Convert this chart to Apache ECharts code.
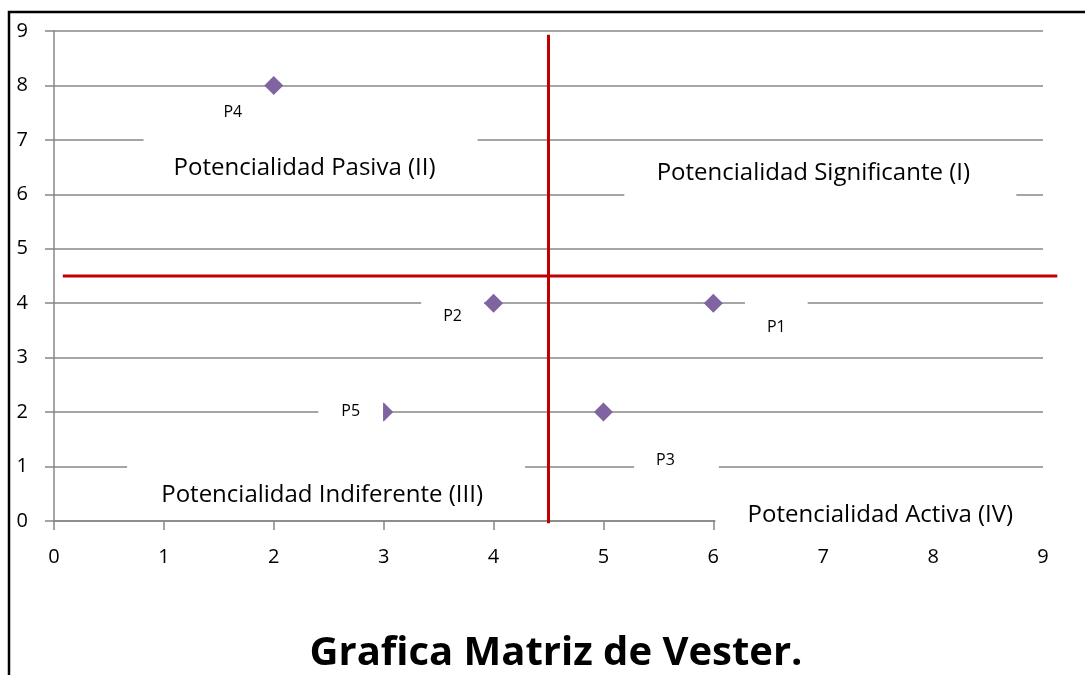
<!DOCTYPE html>
<html>
<head>
<meta charset="utf-8">
<script src="https://cdn.jsdelivr.net/npm/echarts@6/dist/echarts.min.js"></script>
<style>
  html, body { margin: 0; padding: 0; background: #fff; }
  #chart { width: 1085px; height: 675px; }
</style>
</head>
<body>
<div id="chart"></div>
<script>
// puntos de la matriz (x = activos, y = pasivos)
const pointNames = ["P1", "P2", "P3", "P4", "P5"];
const xValues = [6, 4, 5, 2, 3];
const yValues = [4, 4, 2, 8, 2];

const axisTicks = [0, 1, 2, 3, 4, 5, 6, 7, 8, 9];

// divisiones de los cuadrantes (lineas rojas)
const splitX = 4.5;
const splitY = 4.5;
const vLineRange = [-0.04, 8.93];
const hLineRange = [0.08, 9.13];

// textos de cuadrantes, anclados en coordenadas de datos (centro del texto)
const quadrantNames = [
  "Potencialidad Pasiva (II)",
  "Potencialidad Significante (I)",
  "Potencialidad Indiferente (III)",
  "Potencialidad Activa (IV)"
];
const quadrantX = [2.28, 6.91, 2.44, 7.52];
const quadrantY = [6.48, 6.39, 0.48, 0.11];

const titleText = "Grafica Matriz de Vester.";

const font = "'Open Sans', 'Noto Sans', sans-serif";
const gridColor = "#878787";

// label placement for each point (white box hides grid lines like in excel)
const pointLabelStyle = {
  P1: { offset: [63, 24], padding: [18, 22] },
  P2: { offset: [-41, 13], padding: [8, 22] },
  P3: { offset: [73, 48], padding: [8, 44, 8, 22] },
  P4: { offset: [-41, 27], padding: [8, 22] },
  P5: { offset: [-33, -1], padding: [8, 23] }
};

// white text box around each quadrant text: [up, right, down, left] in px
const quadrantBox = [
  [32, 173, 22, 161],
  [20, 203, 25, 189],
  [33, 203, 22, 195],
  [18, 168, 18, 165]
];

const chart = echarts.init(document.getElementById("chart"));

const pointData = pointNames.map((n, i) => ({
  name: n,
  value: [xValues[i], yValues[i]],
  label: {
    offset: pointLabelStyle[n].offset,
    padding: pointLabelStyle[n].padding
  }
}));

const quadrantData = quadrantNames.map((n, i) => ({
  name: n,
  value: [quadrantX[i], quadrantY[i]]
}));

const redLines = [
  [splitX, vLineRange[0], splitX, vLineRange[1]],
  [hLineRange[0], splitY, hLineRange[1], splitY]
];

chart.setOption({
  animation: false,
  title: {
    text: titleText,
    left: 551,
    textAlign: "center",
    top: 629,
    textStyle: { fontFamily: font, fontWeight: "bold", fontSize: 40, color: "#000" }
  },
  graphic: [{
    type: "rect",
    shape: { x: 9, y: 12, width: 1200, height: 800 },
    style: { fill: "none", stroke: "#000", lineWidth: 2.5 },
    silent: true,
    z: 100
  }],
  grid: { left: 54, right: 42, top: 31, bottom: 154 },
  xAxis: {
    type: "value",
    min: 0, max: 9, interval: 1,
    axisLine: { show: true, lineStyle: { color: gridColor, width: 1.5 } },
    axisTick: { show: true, length: 9, lineStyle: { color: gridColor, width: 1.5 } },
    axisLabel: { margin: 26, color: "#000", fontFamily: font, fontSize: 20,
      formatter: v => axisTicks.includes(v) ? String(v) : "" },
    splitLine: { show: false }
  },
  yAxis: {
    type: "value",
    min: 0, max: 9, interval: 1,
    axisLine: { show: true, lineStyle: { color: gridColor, width: 1.5 } },
    axisTick: { show: true, length: 9, lineStyle: { color: gridColor, width: 1.5 } },
    axisLabel: { margin: 26, color: "#000", fontFamily: font, fontSize: 20,
      formatter: v => axisTicks.includes(v) ? String(v) : "" },
    splitLine: { show: true, lineStyle: { color: gridColor, width: 1.5 } }
  },
  series: [
    {
      type: "custom",
      name: "cuadrantes",
      data: quadrantData,
      clip: false,
      silent: true,
      z: 3,
      encode: { x: 0, y: 1 },
      renderItem: (params, api) => {
        const p = api.coord([api.value(0), api.value(1)]);
        const b = quadrantBox[params.dataIndex];
        return {
          type: "group",
          children: [
            {
              type: "rect",
              shape: { x: p[0] - b[3], y: p[1] - b[0], width: b[1] + b[3], height: b[0] + b[2] },
              style: { fill: "#fff" }
            },
            {
              type: "text",
              style: {
                text: quadrantNames[params.dataIndex],
                x: p[0], y: p[1],
                align: "center", verticalAlign: "middle",
                fill: "#000",
                font: "24px " + font
              }
            }
          ]
        };
      }
    },
    {
      type: "custom",
      name: "divisiones",
      data: redLines,
      clip: false,
      silent: true,
      z: 5,
      renderItem: (params, api) => {
        const a = api.coord([api.value(0), api.value(1)]);
        const b = api.coord([api.value(2), api.value(3)]);
        return {
          type: "line",
          shape: { x1: a[0], y1: a[1], x2: b[0], y2: b[1] },
          style: { stroke: "#c00000", lineWidth: 3 }
        };
      },
      encode: { x: [0, 2], y: [1, 3] }
    },
    {
      type: "scatter",
      name: "puntos",
      data: pointData,
      symbol: "diamond",
      symbolSize: [19, 19],
      z: 4,
      itemStyle: { color: "#8064a2", opacity: 1 },
      label: {
        show: true,
        position: "inside",
        formatter: "{b}",
        color: "#000",
        opacity: 1,
        fontFamily: font,
        fontSize: 16,
        backgroundColor: "#fff"
      }
    }
  ]
});
</script>
</body>
</html>
